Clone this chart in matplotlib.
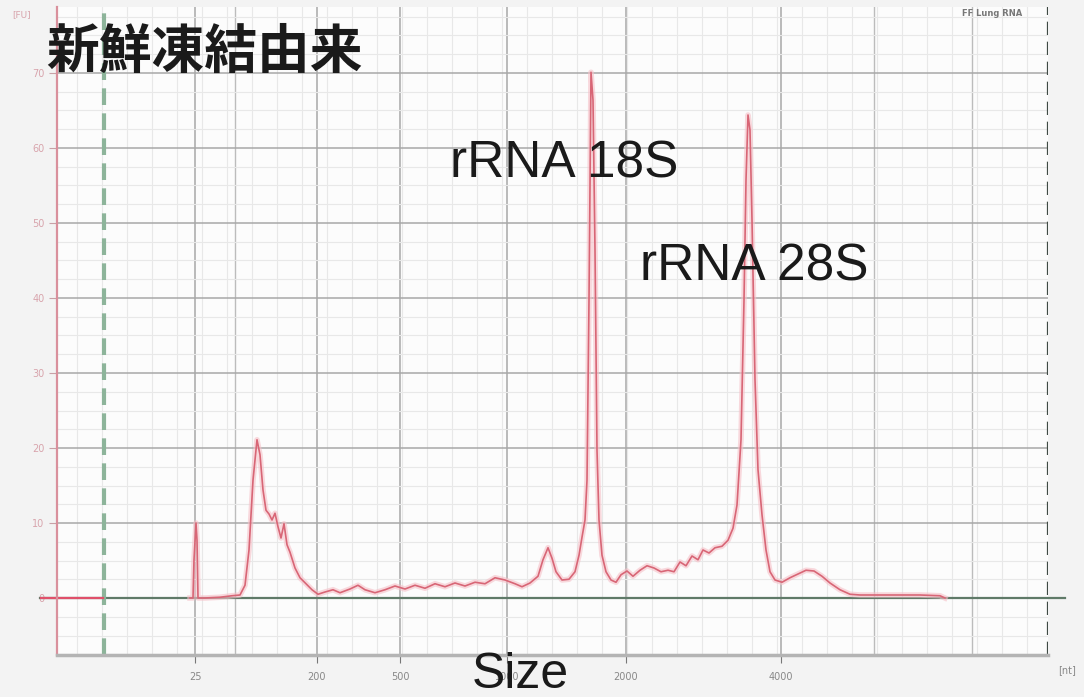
import matplotlib
matplotlib.use("Agg")
import matplotlib.pyplot as plt
from matplotlib.ticker import MultipleLocator, FixedLocator

# migration time (s) and fluorescence (FU)
time_s = [25.65, 25.80, 25.85, 25.95, 26.0, 26.05, 26.4, 27.15, 27.75, 28.15,
          28.4, 28.6, 28.8, 29.0, 29.15, 29.3, 29.45, 29.6, 29.75, 29.9,
          30.05, 30.2, 30.35, 30.5, 30.65, 30.9, 31.15, 31.45, 31.75, 32.05,
          32.4, 32.8, 33.15, 33.65, 34.05, 34.4, 34.9, 35.4, 35.9, 36.4,
          36.9, 37.4, 37.9, 38.4, 38.9, 39.4, 39.9, 40.4, 40.9, 41.4,
          41.9, 42.25, 42.65, 43.05, 43.3, 43.55, 43.75, 43.95, 44.25, 44.6,
          44.9, 45.1, 45.25, 45.4, 45.5, 45.6, 45.7, 45.8, 45.9, 46.0,
          46.1, 46.25, 46.45, 46.7, 46.95, 47.2, 47.5, 47.8, 48.15, 48.5,
          48.85, 49.2, 49.55, 49.85, 50.15, 50.45, 50.75, 51.05, 51.3, 51.6,
          51.9, 52.25, 52.55, 52.8, 53.0, 53.2, 53.35, 53.45, 53.55, 53.65,
          53.75, 53.9, 54.05, 54.25, 54.45, 54.65, 54.9, 55.25, 55.65, 56.05,
          56.45, 56.85, 57.25, 57.65, 58.15, 58.65, 59.15, 60.15, 61.15, 62.15,
          63.15, 63.4]
fu = [0, 0, 5.1, 10.0, 7.7, 0, 0, 0.1, 0.3, 0.4,
      1.7, 6.4, 15.7, 21.1, 19.1, 14.4, 11.7, 11.2, 10.4, 11.3,
      9.5, 8.0, 9.9, 7.1, 6.1, 4.0, 2.7, 1.9, 1.1, 0.5,
      0.8, 1.1, 0.7, 1.2, 1.7, 1.1, 0.7, 1.1, 1.6, 1.2,
      1.7, 1.3, 1.9, 1.5, 2.0, 1.6, 2.1, 1.9, 2.7, 2.4,
      1.9, 1.5, 2.0, 2.9, 5.1, 6.7, 5.3, 3.5, 2.4, 2.5,
      3.5, 5.7, 8.1, 10.4, 15.7, 39.7, 70.1, 66.4, 46.4, 19.7,
      10.4, 5.7, 3.5, 2.4, 2.1, 3.1, 3.6, 2.9, 3.7, 4.3,
      4.0, 3.5, 3.7, 3.5, 4.8, 4.3, 5.6, 5.1, 6.4, 6.0,
      6.7, 6.9, 7.7, 9.3, 12.4, 21.1, 39.7, 55.7, 64.4, 62.4,
      50.4, 29.1, 17.1, 11.1, 6.4, 3.5, 2.4, 2.1, 2.7, 3.2,
      3.7, 3.6, 2.9, 2.0, 1.1, 0.5, 0.4, 0.4, 0.4, 0.4,
      0.3, 0]

size_ticks = [25.9, 32.0, 36.15, 41.5, 47.45, 55.2]
size_labels = ["25", "200", "500", "1000", "2000", "4000"]
fu_ticks = [0, 10, 20, 30, 40, 50, 60, 70]
markers = [21.35, 68.55]

fig = plt.figure(figsize=(10.84, 6.97), dpi=100, facecolor="#f3f3f3")
ax = fig.add_axes([57 / 1084, 42 / 697, 991 / 1084, 648 / 697])
ax.set_facecolor("#fcfcfc")
ax.set_xlim(19, 68.55)
ax.set_ylim(-7.6, 78.8)

# grid
ax.xaxis.set_major_locator(FixedLocator(size_ticks))
ax.xaxis.set_minor_locator(MultipleLocator(1.25))
ax.yaxis.set_major_locator(FixedLocator(fu_ticks))
ax.yaxis.set_minor_locator(MultipleLocator(2.5))
ax.grid(which="major", color="#a8a8a8", lw=1.1)
ax.grid(which="minor", color="#e8e8e8", lw=0.8)
for xg in [27.9, 59.85, 64.75]:
    ax.axvline(xg, color="#bcbcbc", lw=1.0, zorder=0.5)

# baseline
ax.axhline(0, xmin=-0.017, xmax=1.017, color="#5f7a68", lw=1.6, clip_on=False, zorder=2)
ax.plot([18.2, 21.3], [0, 0], color="#e0506a", lw=1.6, clip_on=False, zorder=2.1)

# marker lines
ax.axvline(markers[0], color="#8db49a", lw=3, ls=(0, (4, 2)), zorder=2)
ax.axvline(markers[1], color="#3f4a44", lw=1.6, ls=(0, (6, 3)), zorder=2)

# trace with soft glow
ax.plot(time_s, fu, color="#f6c0c8", lw=4, alpha=0.6, zorder=3)
ax.plot(time_s, fu, color="#d86676", lw=1.2, zorder=4)

# spines and ticks
for s in ["top", "right"]:
    ax.spines[s].set_visible(False)
ax.spines["left"].set_color("#d9909c")
ax.spines["left"].set_linewidth(1.6)
ax.spines["bottom"].set_color("#b4b4b4")
ax.spines["bottom"].set_linewidth(2.5)
ax.tick_params(axis="y", which="major", length=6, color="#c9a0a6",
               labelsize=7, labelcolor="#d8a4ac", pad=3)
ax.tick_params(axis="x", which="major", length=6, color="#777777",
               labelsize=7, labelcolor="#888888", pad=6)
ax.tick_params(which="minor", length=0)
ax.set_xticklabels(size_labels)
ax.set_yticklabels([str(v) for v in fu_ticks])

fig.text(12 / 1084, 1 - 15 / 697, "[FU]", fontsize=6.5, color="#d8a4ac", va="center")
fig.text(1058 / 1084, 1 - 670 / 697, "[nt]", fontsize=7, color="#888888", va="center")
fig.text(962 / 1084, 1 - 13 / 697, "FF Lung RNA", fontsize=6, color="#777777",
         fontweight="bold", va="center")

fig.text(46 / 1084, 1 - 52 / 697, "新鮮凍結由来", fontsize=38, fontweight="bold",
         family=["Noto Sans CJK JP", "DejaVu Sans"], color="#1a1a1a", va="center")
ax.text(38.65, 56, "rRNA 18S", fontsize=37, family="Liberation Sans",
        color="#1a1a1a", va="baseline", zorder=6)
ax.text(48.15, 42.3, "rRNA 28S", fontsize=37, family="Liberation Sans",
        color="#1a1a1a", va="baseline", zorder=6)
fig.text(472 / 1084, 9 / 697, "Size", fontsize=36, family="Liberation Sans",
         color="#1a1a1a", va="baseline")

fig.savefig("out.png", dpi=100, facecolor=fig.get_facecolor())
